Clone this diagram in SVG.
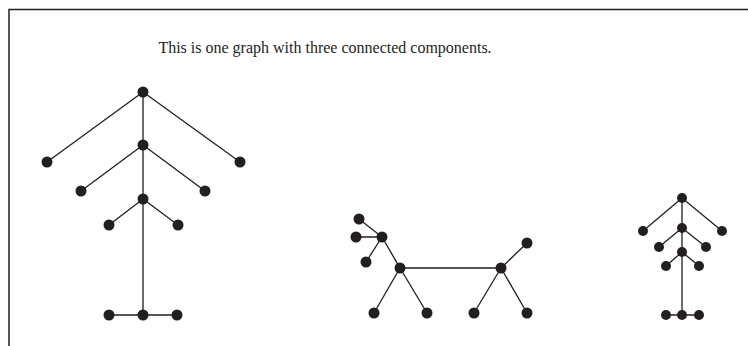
<svg xmlns="http://www.w3.org/2000/svg" width="748" height="346" viewBox="0 0 748 346">
<style>
.e{stroke:#231f20;stroke-width:1.3;fill:none}
.n{fill:#231f20}
.t{font-family:"Liberation Serif","Times New Roman",serif;font-size:16px;fill:#231f20}
</style>
<rect width="748" height="346" fill="#fff"/>
<path d="M9,346 V9.5 H748" fill="none" stroke="#231f20" stroke-width="1.5"/>
<text class="t" x="325" y="53" text-anchor="middle">This is one graph with three connected components.</text>
<g id="connectors" class="e">
<path d="M143,92 V315 M143,92 L47,162 M143,92 L240,162 M143,145 L81,191 M143,145 L205,191 M143,199 L109,225 M143,199 L178,225 M109,315 H177"/>
<path d="M359,219 L382,237 M356,237 H382 M382,237 L366,262 M382,237 L400,268 H501 M400,268 L374,313 M400,268 L427,313 M501,268 L527,243 M501,268 L474,313 M501,268 L527,313"/>
<path d="M682,198 V315 M682,198 L643,231 M682,198 L722,231 M682,228 L659,247 M682,228 L706,247 M682,252 L666,266 M682,252 L699,266 M666,315 H699"/>
</g>
<g id="component1">
<circle class="n" cx="143" cy="92" r="5.5"/>
<circle class="n" cx="47" cy="162" r="5.5"/>
<circle class="n" cx="240" cy="162" r="5.5"/>
<circle class="n" cx="143" cy="145" r="5.5"/>
<circle class="n" cx="81" cy="191" r="5.5"/>
<circle class="n" cx="205" cy="191" r="5.5"/>
<circle class="n" cx="143" cy="199" r="5.5"/>
<circle class="n" cx="109" cy="225" r="5.5"/>
<circle class="n" cx="178" cy="225" r="5.5"/>
<circle class="n" cx="109" cy="315" r="5.5"/>
<circle class="n" cx="143" cy="315" r="5.5"/>
<circle class="n" cx="177" cy="315" r="5.5"/>
</g>
<g id="component2">
<circle class="n" cx="359" cy="219" r="5.5"/>
<circle class="n" cx="356" cy="237" r="5.5"/>
<circle class="n" cx="382" cy="237" r="5.5"/>
<circle class="n" cx="366" cy="262" r="5.5"/>
<circle class="n" cx="400" cy="268" r="5.5"/>
<circle class="n" cx="501" cy="268" r="5.5"/>
<circle class="n" cx="527" cy="243" r="5.5"/>
<circle class="n" cx="374" cy="313" r="5.5"/>
<circle class="n" cx="427" cy="313" r="5.5"/>
<circle class="n" cx="474" cy="313" r="5.5"/>
<circle class="n" cx="527" cy="313" r="5.5"/>
</g>
<g id="component3">
<circle class="n" cx="682" cy="198" r="5"/>
<circle class="n" cx="643" cy="231" r="5"/>
<circle class="n" cx="722" cy="231" r="5"/>
<circle class="n" cx="682" cy="228" r="5"/>
<circle class="n" cx="659" cy="247" r="5"/>
<circle class="n" cx="706" cy="247" r="5"/>
<circle class="n" cx="682" cy="252" r="5"/>
<circle class="n" cx="666" cy="266" r="5"/>
<circle class="n" cx="699" cy="266" r="5"/>
<circle class="n" cx="666" cy="315" r="5"/>
<circle class="n" cx="682" cy="315" r="5"/>
<circle class="n" cx="699" cy="315" r="5"/>
</g>
</svg>
